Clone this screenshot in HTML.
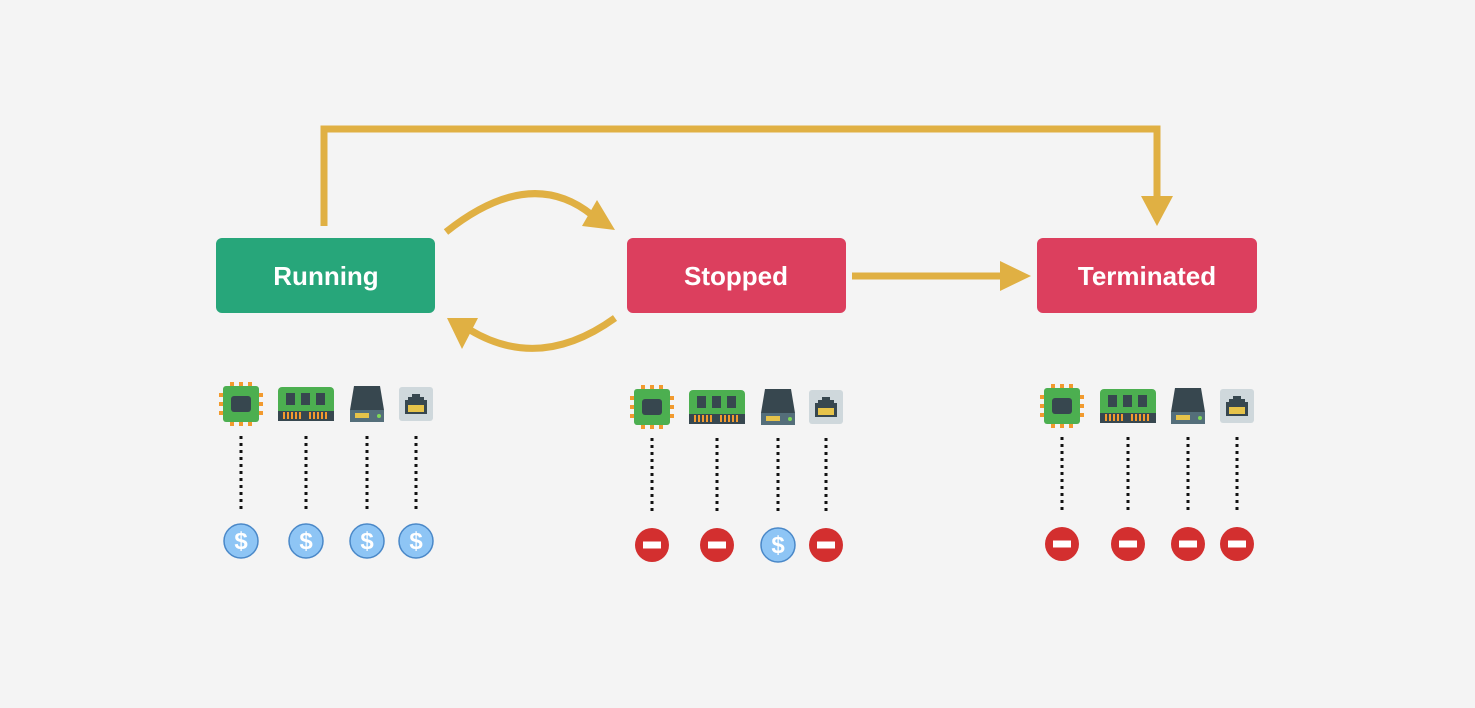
<!DOCTYPE html>
<html><head><style>body{margin:0;background:#f4f4f4;}svg{display:block}</style></head>
<body>
<svg width="1475" height="708" viewBox="0 0 1475 708" xmlns="http://www.w3.org/2000/svg">
<defs>
<g id="cpu">
<g fill="#f29a2e"><rect x="-11" y="-22" width="4" height="5"/><rect x="-2" y="-22" width="4" height="5"/><rect x="7" y="-22" width="4" height="5"/>
<rect x="-11" y="17" width="4" height="5"/><rect x="-2" y="17" width="4" height="5"/><rect x="7" y="17" width="4" height="5"/>
<rect x="-22" y="-11" width="5" height="4"/><rect x="-22" y="-2" width="5" height="4"/><rect x="-22" y="7" width="5" height="4"/>
<rect x="17" y="-11" width="5" height="4"/><rect x="17" y="-2" width="5" height="4"/><rect x="17" y="7" width="5" height="4"/></g>
<rect x="-18" y="-18" width="36" height="36" rx="3" fill="#4caf50"/>
<rect x="-10" y="-8" width="20" height="16" rx="3" fill="#37474f"/>
</g>
<g id="ram">
<rect x="-28" y="-17" width="56" height="34" rx="4" fill="#4caf50"/>
<rect x="-28" y="7" width="56" height="10" fill="#37474f"/>
<rect x="-20" y="-11" width="9" height="12" fill="#37474f"/><rect x="-5" y="-11" width="9" height="12" fill="#37474f"/><rect x="10" y="-11" width="9" height="12" fill="#37474f"/>
<g fill="#f29a2e"><rect x="-23" y="8" width="2" height="7"/><rect x="-19" y="8" width="2" height="7"/><rect x="-15" y="8" width="2" height="7"/><rect x="-11" y="8" width="2" height="7"/><rect x="-7" y="8" width="2" height="7"/><rect x="3" y="8" width="2" height="7"/><rect x="7" y="8" width="2" height="7"/><rect x="11" y="8" width="2" height="7"/><rect x="15" y="8" width="2" height="7"/><rect x="19" y="8" width="2" height="7"/></g>
</g>
<g id="hdd">
<path d="M-13,-18 H13 L17,6 H-17 Z" fill="#37474f"/>
<rect x="-17" y="6" width="34" height="12" fill="#546e7a"/>
<rect x="-12" y="9" width="14" height="5" fill="#e6c34a"/>
<circle cx="12" cy="12" r="2" fill="#7ed957"/>
</g>
<g id="net">
<rect x="-17" y="-17" width="34" height="34" rx="3" fill="#cfd8dc"/>
<path d="M-4,-10 H4 V-7 H8 V-4 H11 V10 H-11 V-4 H-8 V-7 H-4 Z" fill="#37474f"/>
<rect x="-8" y="1" width="16" height="7" fill="#e6c34a"/>
</g>
<g id="usd"><circle r="17" fill="#8ec5f5" stroke="#4a88c8" stroke-width="1.5"/><text y="8" text-anchor="middle" font-family="Liberation Sans,sans-serif" font-size="24" font-weight="bold" fill="#fff">$</text></g>
<g id="no"><circle r="17" fill="#d32f2f"/><rect x="-9" y="-3.5" width="18" height="7" fill="#fff"/></g>
</defs>
<g fill="none" stroke="#e0b043" stroke-width="7">
<path d="M324,226 V129 H1157 V200"/>
<path d="M852,276 H1002"/>
<path d="M446,232 Q530,165 592,215"/>
<path d="M615,318 Q540,372 470,330"/>
</g>
<g fill="#e0b043">
<polygon points="1141,196 1173,196 1157,226"/>
<polygon points="1000,261 1000,291 1031,276"/>
<polygon points="582,226 597,200 615,230"/>
<polygon points="447,318 478,318 462,349"/>
</g>
<rect x="216" y="238" width="219" height="75" rx="6" fill="#27a67a"/>
<rect x="627" y="238" width="219" height="75" rx="6" fill="#dc3f5e"/>
<rect x="1037" y="238" width="220" height="75" rx="6" fill="#dc3f5e"/>
<g font-family="Liberation Sans,sans-serif" font-weight="bold" font-size="26" fill="#fff" text-anchor="middle">
<text x="326" y="285">Running</text><text x="736" y="285">Stopped</text><text x="1147" y="285">Terminated</text></g>
<g stroke="#111" stroke-width="3" stroke-dasharray="3,4">
<path d="M241,436V512M306,436V512M367,436V512M416,436V512"/>
<path d="M652,438V514M717,438V514M778,438V514M826,438V514"/>
<path d="M1062,437V513M1128,437V513M1188,437V513M1237,437V513"/>
</g>
<use href="#cpu" x="241" y="404"/><use href="#ram" x="306" y="404"/><use href="#hdd" x="367" y="404"/><use href="#net" x="416" y="404"/>
<use href="#cpu" x="652" y="407"/><use href="#ram" x="717" y="407"/><use href="#hdd" x="778" y="407"/><use href="#net" x="826" y="407"/>
<use href="#cpu" x="1062" y="406"/><use href="#ram" x="1128" y="406"/><use href="#hdd" x="1188" y="406"/><use href="#net" x="1237" y="406"/>
<use href="#usd" x="241" y="541"/><use href="#usd" x="306" y="541"/><use href="#usd" x="367" y="541"/><use href="#usd" x="416" y="541"/>
<use href="#no" x="652" y="545"/><use href="#no" x="717" y="545"/><use href="#usd" x="778" y="545"/><use href="#no" x="826" y="545"/>
<use href="#no" x="1062" y="544"/><use href="#no" x="1128" y="544"/><use href="#no" x="1188" y="544"/><use href="#no" x="1237" y="544"/>
</svg>
</body></html>
